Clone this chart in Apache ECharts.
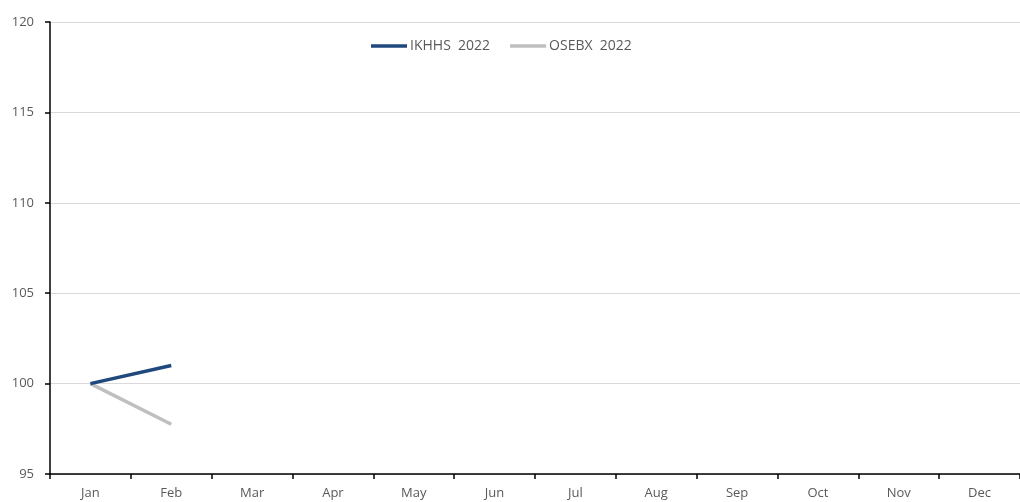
<!DOCTYPE html>
<html><head><meta charset="utf-8">
<script src="https://cdn.jsdelivr.net/npm/echarts@6/dist/echarts.min.js"></script>
<style>html,body{margin:0;padding:0;background:#fff}#c{width:1020px;height:502px}</style>
</head><body><div id="c"></div>
<script>
const categories = ['Jan','Feb','Mar','Apr','May','Jun','Jul','Aug','Sep','Oct','Nov','Dec'];
const ikhhs2022 = [100, 101.0];
const osebx2022 = [100, 97.75];
const seriesNames = ['IKHHS  2022', 'OSEBX  2022'];
const yMin = 95, yMax = 120, yStep = 5;

const chart = echarts.init(document.getElementById('c'), null, {renderer:'canvas'});
const font = '"Open Sans", sans-serif';
chart.setOption({
  animation: false,
  grid: {left: 50, right: -11, top: 22, bottom: 28, containLabel: false},
  legend: {
    top: 34, left: 366, icon: 'rect', itemWidth: 36, itemHeight: 3.5, itemGap: 20,
    textStyle: {color: '#595959', fontSize: 14, fontFamily: font, padding: [0,0,0,-2]},
    data: seriesNames
  },
  xAxis: {
    type: 'category', data: categories, boundaryGap: true,
    axisLine: {lineStyle: {color: '#000', width: 1.5}},
    axisTick: {show: true, length: 5, lineStyle: {color: '#000', width: 1.5}},
    axisLabel: {color: '#595959', fontSize: 13, fontFamily: font, margin: 13},
    splitLine: {show: false}
  },
  yAxis: {
    type: 'value', min: yMin, max: yMax, interval: yStep,
    axisLine: {show: true, lineStyle: {color: '#000', width: 1.5}},
    axisTick: {show: true, length: 5, lineStyle: {color: '#000', width: 1.5}},
    axisLabel: {color: '#595959', fontSize: 13, fontFamily: font, margin: 16},
    splitLine: {lineStyle: {color: '#d9d9d9', width: 1}}
  },
  series: [
    {name: seriesNames[0], type: 'line', data: ikhhs2022, symbol: 'none', showSymbol: false,
     lineStyle: {color: '#1f497d', width: 3.5}, itemStyle: {color: '#1f497d'}, z: 3},
    {name: seriesNames[1], type: 'line', data: osebx2022, symbol: 'none', showSymbol: false,
     lineStyle: {color: '#bfbfbf', width: 3.5}, itemStyle: {color: '#bfbfbf'}, z: 2}
  ]
});
</script></body></html>
